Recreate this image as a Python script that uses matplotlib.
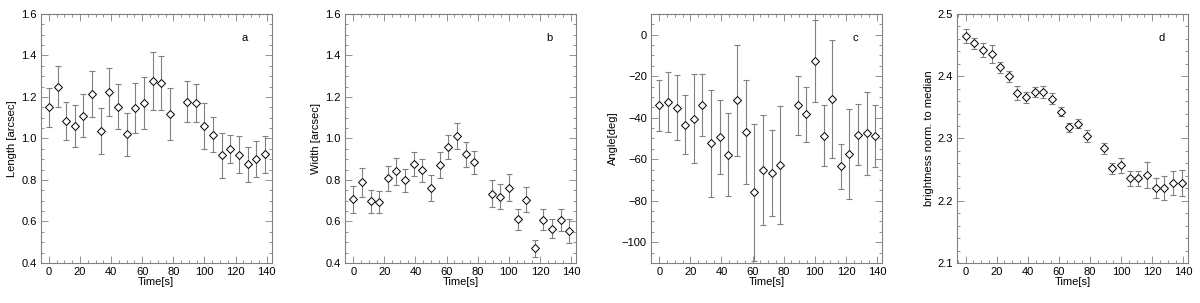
import numpy as np
import matplotlib
matplotlib.use("Agg")
import matplotlib.pyplot as plt
from matplotlib.ticker import MultipleLocator

plt.rcParams['font.family'] = ['Liberation Sans', 'DejaVu Sans']

# time stamps (one frame missing near 83 s)
time = [0, 5.6, 11.1, 16.7, 22.2, 27.8, 33.3, 38.9, 44.4, 50.0, 55.6, 61.1, 66.7,
        72.2, 77.8, 88.9, 94.4, 100.0, 105.6, 111.1, 116.7, 122.2, 127.8, 133.3, 138.9]

length = [1.15, 1.25, 1.085, 1.06, 1.11, 1.215, 1.035, 1.225, 1.153, 1.02, 1.147, 1.17, 1.275,
          1.265, 1.12, 1.178, 1.17, 1.06, 1.018, 0.918, 0.948, 0.922, 0.875, 0.902, 0.923]
length_err = [0.095, 0.1, 0.09, 0.1, 0.105, 0.11, 0.11, 0.115, 0.108, 0.105, 0.122, 0.125, 0.14,
              0.13, 0.125, 0.098, 0.092, 0.11, 0.085, 0.11, 0.068, 0.09, 0.085, 0.088, 0.088]

width = [0.706, 0.79, 0.698, 0.696, 0.808, 0.843, 0.798, 0.877, 0.846, 0.763, 0.872, 0.958, 1.011,
         0.923, 0.886, 0.734, 0.72, 0.763, 0.61, 0.705, 0.47, 0.608, 0.565, 0.608, 0.554]
width_err = [0.065, 0.07, 0.055, 0.053, 0.06, 0.065, 0.056, 0.06, 0.055, 0.062, 0.062, 0.058, 0.064,
             0.06, 0.056, 0.065, 0.062, 0.065, 0.052, 0.06, 0.043, 0.05, 0.045, 0.053, 0.056]

angle = [-34.1, -32.4, -35.1, -43.4, -40.4, -34.0, -52.3, -49.3, -57.9, -31.7, -47.0, -75.9, -65.1,
         -66.7, -62.7, -34.1, -38.4, -12.8, -48.6, -31.0, -63.5, -57.4, -48.2, -47.5, -48.8]
angle_err = [12.5, 14.3, 15.8, 14.3, 21.6, 15.0, 25.8, 17.8, 20.0, 26.8, 25.0, 33.0, 26.5,
             20.7, 28.5, 14.2, 13.4, 19.7, 14.5, 28.3, 10.8, 21.8, 14.8, 19.9, 14.8]

bright = [2.465, 2.453, 2.442, 2.436, 2.414, 2.400, 2.373, 2.366, 2.374, 2.375, 2.364, 2.343, 2.318,
          2.324, 2.304, 2.2845, 2.252, 2.257, 2.236, 2.236, 2.242, 2.220, 2.220, 2.229, 2.228]
bright_err = [0.011, 0.009, 0.011, 0.014, 0.009, 0.0086, 0.012, 0.0083, 0.008, 0.01, 0.009, 0.007, 0.007,
              0.007, 0.0096, 0.009, 0.009, 0.012, 0.012, 0.012, 0.021, 0.016, 0.019, 0.019, 0.021]

panels = [
    (length, length_err, "Length [arcsec]", (0.4, 1.6), 0.2, 0.05, "a", "%.1f"),
    (width, width_err, "Width [arcsec]", (0.4, 1.6), 0.2, 0.05, "b", "%.1f"),
    (angle, angle_err, "Angle[deg]", (-110, 10), 20, 5, "c", "%d"),
    (bright, bright_err, "brightness norm. to median", (2.1, 2.5), 0.1, 0.02, "d", "%.1f"),
]

lefts = [0.0339, 0.2875, 0.5425, 0.7978]
grey = "#808080"

fig = plt.figure(figsize=(12, 3.03), dpi=100)

for left, (vals, errs, ylabel, ylim, major, minor, letter, fmt) in zip(lefts, panels):
  ax = fig.add_axes([left, 0.132, 0.1925, 0.822])
  ax.errorbar(time, vals, yerr=errs, fmt='none', ecolor=grey, elinewidth=0.8,
              capsize=2.5, capthick=0.8)
  ax.plot(time, vals, 'D', ms=4.2, mfc='white', mec='black', mew=0.7)
  ax.set_xlim(-5.3, 143.2)
  ax.set_ylim(*ylim)
  ax.xaxis.set_major_locator(MultipleLocator(20))
  ax.xaxis.set_minor_locator(MultipleLocator(5))
  ax.yaxis.set_major_locator(MultipleLocator(major))
  ax.yaxis.set_minor_locator(MultipleLocator(minor))
  ax.yaxis.set_major_formatter(matplotlib.ticker.FormatStrFormatter(fmt))
  if letter == "c":
    ax.yaxis.set_major_formatter(matplotlib.ticker.FuncFormatter(
        lambda v, p: ("%d" % v).replace("-", "\u2212")))
  ax.tick_params(which='both', direction='in', top=True, right=True,
                 color=grey, width=0.6, labelsize=8, pad=3)
  ax.tick_params(which='major', length=5)
  ax.tick_params(which='minor', length=2.5)
  for s in ax.spines.values():
    s.set_color(grey)
    s.set_linewidth(0.8)
  ax.set_xlabel("Time[s]", fontsize=8, labelpad=0)
  ax.set_ylabel(ylabel, fontsize=8, labelpad=3)
  ax.text(0.884, 0.905, letter, transform=ax.transAxes, fontsize=8,
          ha='center', va='center')

fig.savefig("out.png", dpi=100)
